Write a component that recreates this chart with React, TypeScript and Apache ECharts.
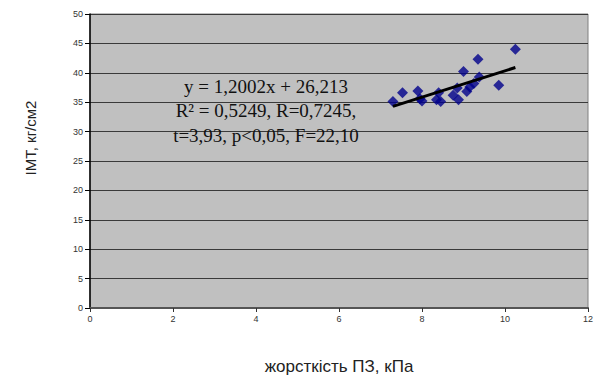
import React, { useEffect, useRef } from "react";
import * as echarts from "echarts";

const stiffness = [7.3, 7.53, 7.9, 7.95, 8.0, 8.35, 8.4, 8.45, 8.75, 8.85, 8.88, 9.0, 9.08, 9.15, 9.25, 9.35, 9.38, 9.85, 10.25];
const bmi = [35.1, 36.6, 36.9, 35.6, 35.2, 35.4, 36.6, 35.1, 36.2, 37.4, 35.4, 40.2, 36.8, 37.6, 38.2, 42.3, 39.3, 37.9, 44.0];
const trendX = [7.3, 10.25];
const trendY = [34.3, 40.9];
const equationLines = [
  "y = 1,2002x + 26,213",
  "R² = 0,5249, R=0,7245,",
  "t=3,93, p<0,05, F=22,10",
];
const xName = "жорсткість ПЗ, кПа";
const yName = "ІМТ, кг/см2";

export default function App() {
  const ref = useRef<HTMLDivElement>(null);
  useEffect(() => {
    if (!ref.current) return;
    const chart = echarts.init(ref.current, null, { renderer: "svg" });
    const tickFont = { fontFamily: "Liberation Sans", fontSize: 9, color: "#333" };
    chart.setOption({
      animation: false,
      backgroundColor: "#ffffff",
      grid: {
        left: 90,
        right: 13,
        top: 14,
        bottom: 68,
        outerBoundsMode: "none",
        containLabel: false,
        show: true,
        backgroundColor: "#c0c0c0",
        borderColor: "#808080",
        borderWidth: 1,
      },
      xAxis: {
        type: "value",
        min: 0,
        max: 12,
        interval: 2,
        name: xName,
        nameLocation: "middle",
        nameGap: 50,
        nameTextStyle: { fontFamily: "Liberation Sans", fontSize: 17, color: "#222" },
        axisLine: { show: true, lineStyle: { color: "#555", width: 2 } },
        axisTick: { show: true, length: 4, lineStyle: { color: "#333" } },
        axisLabel: { ...tickFont, margin: 6 },
        splitLine: { show: false },
      },
      yAxis: {
        type: "value",
        min: 0,
        max: 50,
        interval: 5,
        axisLine: { show: true, lineStyle: { color: "#000", width: 1.5 } },
        axisTick: { show: true, length: 5, lineStyle: { color: "#000" } },
        axisLabel: { ...tickFont, margin: 7 },
        splitLine: { show: true, lineStyle: { color: "#3a3a3a", width: 1 } },
      },
      graphic: [
        {
          type: "text",
          x: 30,
          y: 138,
          rotation: Math.PI / 2,
          style: {
            text: yName,
            font: '15px "Liberation Sans"',
            fill: "#222",
            textAlign: "center",
            textVerticalAlign: "middle",
          },
        },
        ...equationLines.map((t, i) => ({
          type: "text",
          x: 266,
          y: 86 + i * 24.5,
          z: 100,
          style: {
            text: t,
            font: '19px "Liberation Serif"',
            fill: "#111",
            textAlign: "center",
            textVerticalAlign: "middle",
          },
        })),
      ],
      series: [
        {
          type: "line",
          data: trendX.map((x, i) => [x, trendY[i]]),
          showSymbol: false,
          symbol: "none",
          lineStyle: { color: "#000", width: 3 },
          z: 3,
        },
        {
          type: "scatter",
          data: stiffness.map((x, i) => [x, bmi[i]]),
          symbol: "diamond",
          symbolSize: 11,
          itemStyle: { color: "#00008b" },
          z: 2,
        },
      ],
    });
    return () => chart.dispose();
  }, []);
  return <div ref={ref} style={{ width: 601, height: 376, position: "absolute", left: 0, top: 0 }} />;
}
